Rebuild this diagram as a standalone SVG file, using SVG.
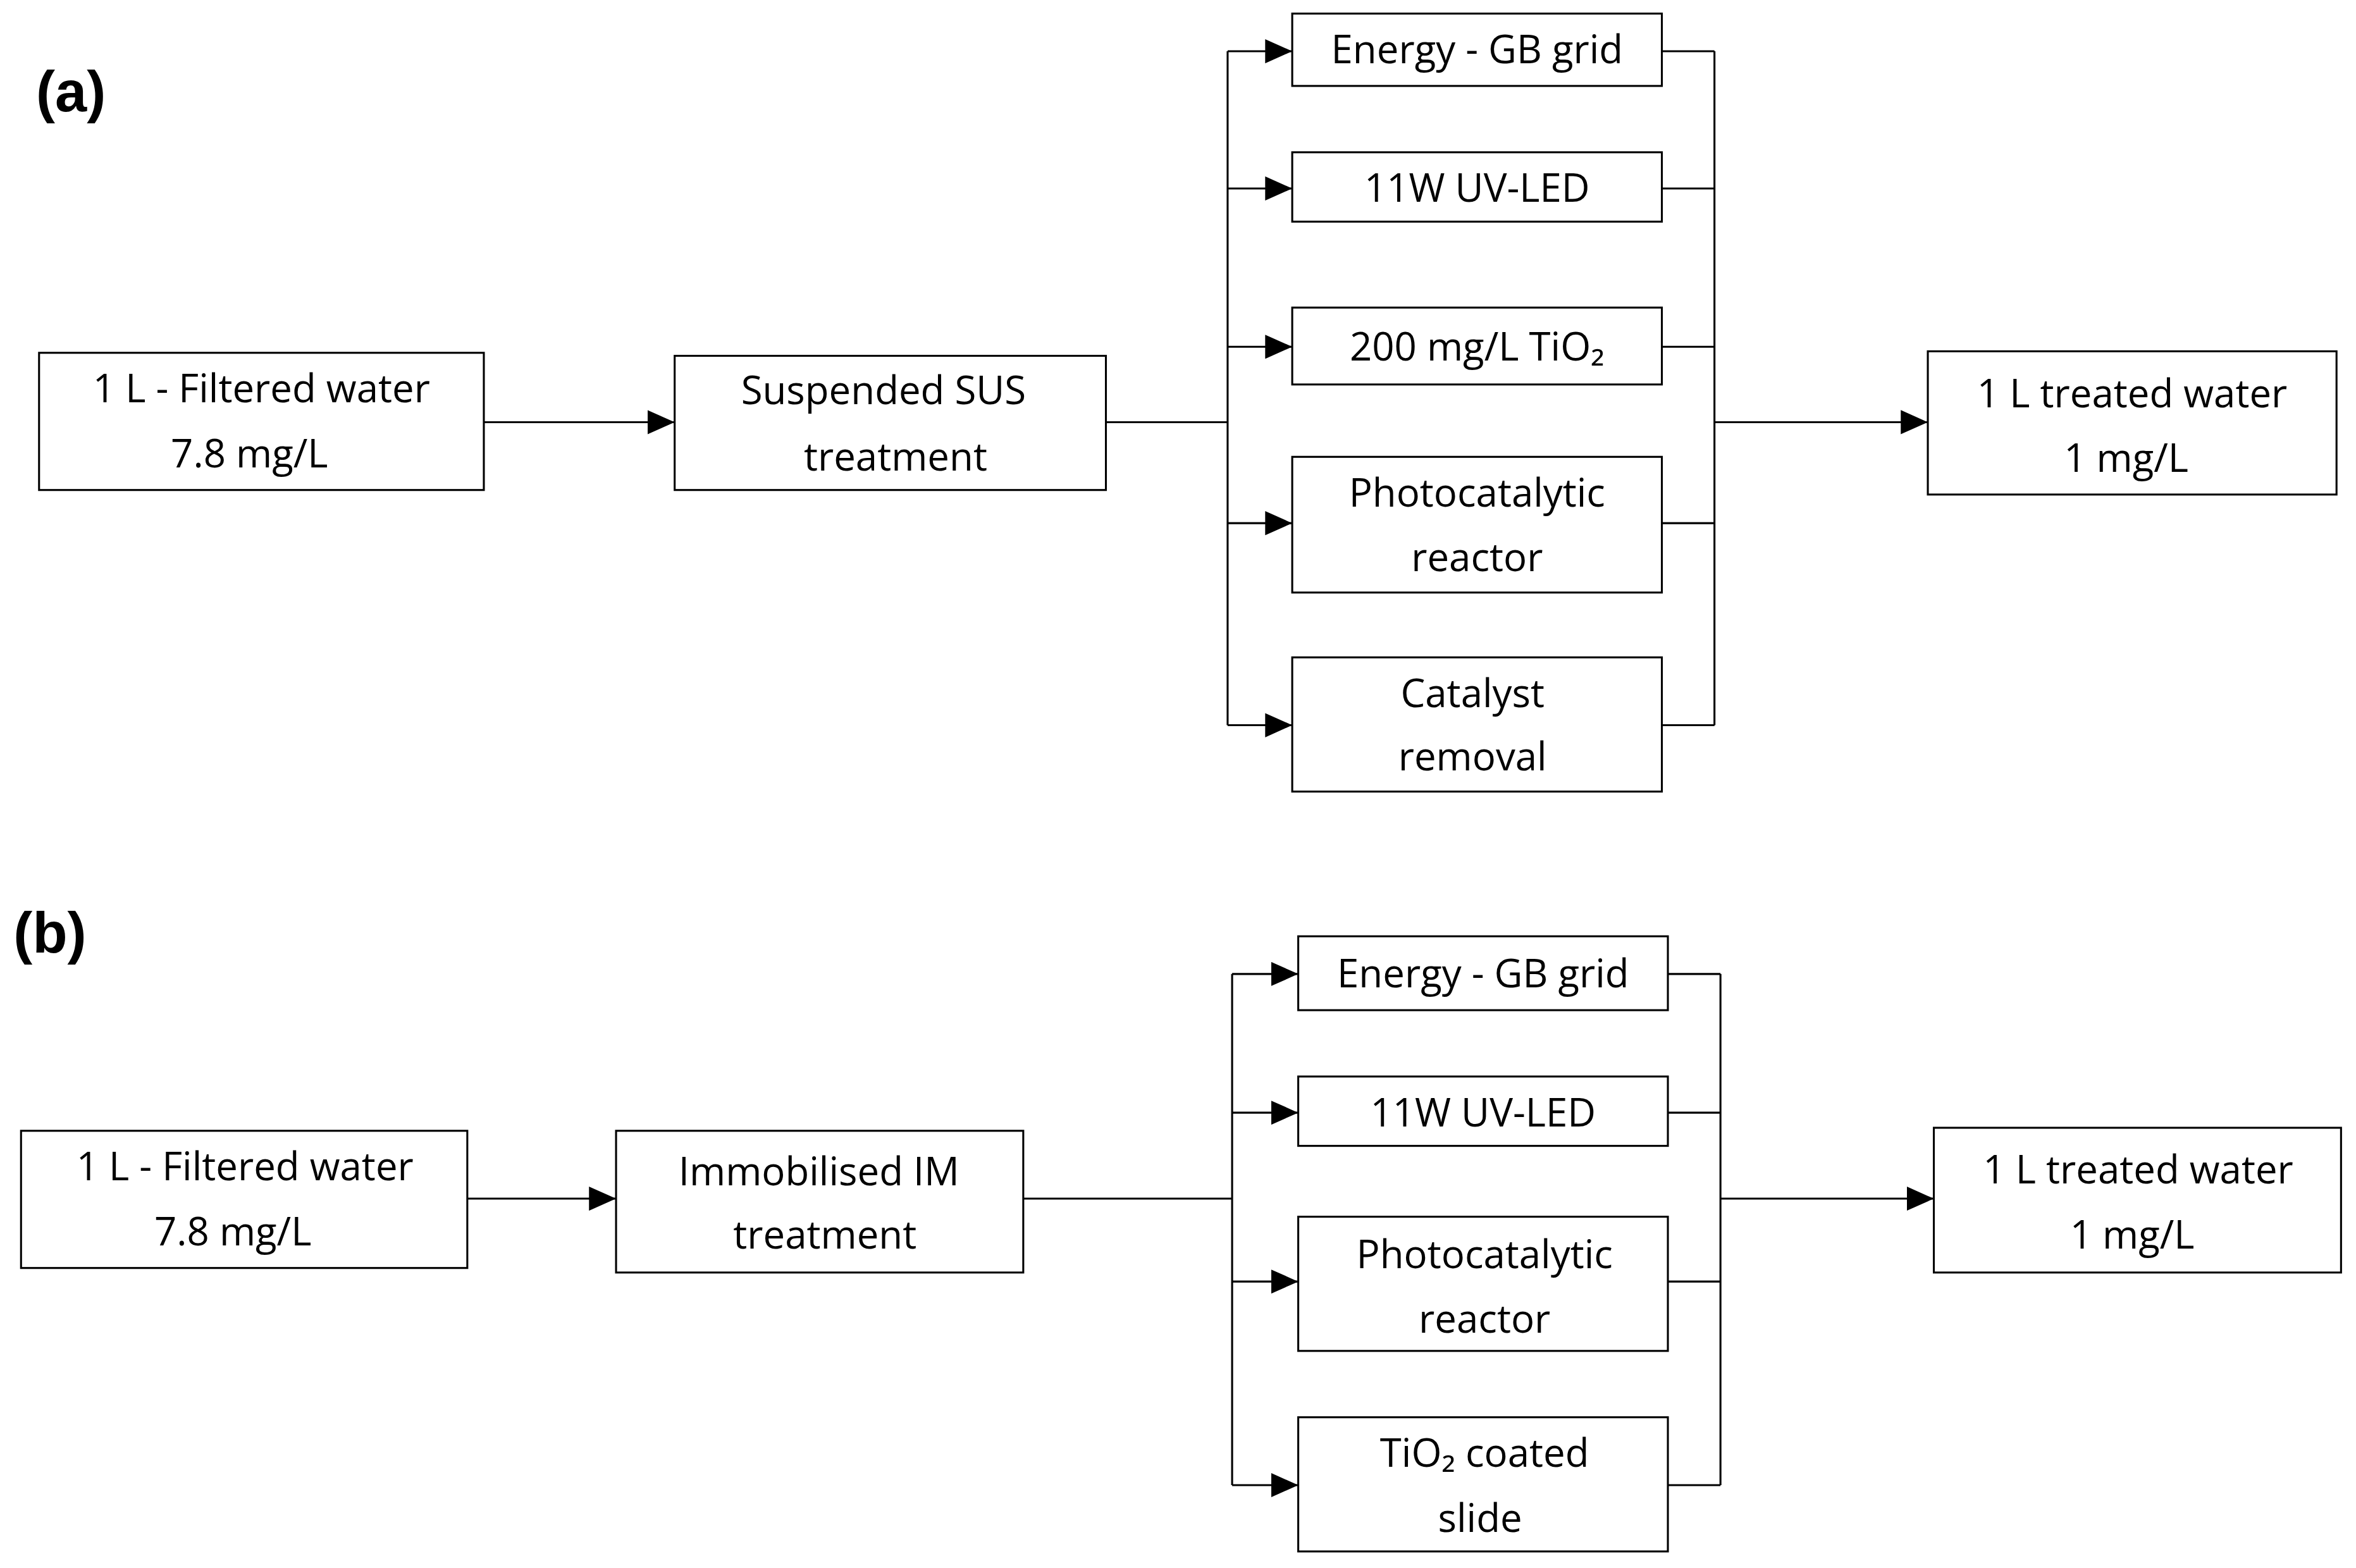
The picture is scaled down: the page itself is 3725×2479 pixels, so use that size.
<svg xmlns="http://www.w3.org/2000/svg" width="3725" height="2479" viewBox="0 0 3725 2479">
<style>
.b{fill:#fff;stroke:#000;stroke-width:1.3}
.t{font-family:"Open Sans","Liberation Sans",sans-serif;font-size:26px;text-anchor:middle;fill:#000}
.l{font-family:"Liberation Sans",Arial,sans-serif;font-size:38px;font-weight:bold;fill:#000}
.c{fill:none;stroke:#000;stroke-width:1.3}
</style>
<defs><marker id="a" markerUnits="userSpaceOnUse" markerWidth="20" markerHeight="16" refX="18" refY="8" orient="auto"><path d="M0,0L18,8L0,16Z" fill="#000"/></marker></defs>
<rect width="3725" height="2479" fill="#fff"/>
<g transform="scale(2.3757,2.3837)">
<text class="l" x="24" y="74">(a)</text>
<text class="l" x="9" y="632">(b)</text>
<g id="connectors">
<path class="c" d="M322,280H449" marker-end="url(#a)"/>
<path class="c" d="M736,280H817M817,34V481"/>
<path class="c" d="M817,34H860" marker-end="url(#a)"/>
<path class="c" d="M817,125H860" marker-end="url(#a)"/>
<path class="c" d="M817,230H860" marker-end="url(#a)"/>
<path class="c" d="M817,347H860" marker-end="url(#a)"/>
<path class="c" d="M817,481H860" marker-end="url(#a)"/>
<path class="c" d="M1106,34H1141M1106,125H1141M1106,230H1141M1106,347H1141M1106,481H1141M1141,34V481"/>
<path class="c" d="M1141,280H1283" marker-end="url(#a)"/>
<path class="c" d="M311,795H410" marker-end="url(#a)"/>
<path class="c" d="M681,795H820M820,646V985"/>
<path class="c" d="M820,646H864" marker-end="url(#a)"/>
<path class="c" d="M820,738H864" marker-end="url(#a)"/>
<path class="c" d="M820,850H864" marker-end="url(#a)"/>
<path class="c" d="M820,985H864" marker-end="url(#a)"/>
<path class="c" d="M1110,646H1145M1110,738H1145M1110,850H1145M1110,985H1145M1145,646V985"/>
<path class="c" d="M1145,795H1287" marker-end="url(#a)"/>
</g>
<g id="a1"><rect class="b" x="26" y="234" width="296" height="91"/><text class="t" x="174" y="267">1 L - Filtered water</text><text class="t" x="166" y="310">7.8 mg/L</text></g>
<g id="a2"><rect class="b" x="449" y="236" width="287" height="89"/><text class="t" x="588" y="268">Suspended SUS</text><text class="t" x="596" y="312">treatment</text></g>
<g id="a3"><rect class="b" x="860" y="9" width="246" height="48"/><text class="t" x="983" y="42">Energy - GB grid</text></g>
<g id="a4"><rect class="b" x="860" y="101" width="246" height="46"/><text class="t" x="983" y="134">11W UV-LED</text></g>
<g id="a5"><rect class="b" x="860" y="204" width="246" height="51"/><text class="t" x="983" y="239">200 mg/L TiO₂</text></g>
<g id="a6"><rect class="b" x="860" y="303" width="246" height="90"/><text class="t" x="983" y="336">Photocatalytic</text><text class="t" x="983" y="379">reactor</text></g>
<g id="a7"><rect class="b" x="860" y="436" width="246" height="89"/><text class="t" x="980" y="469">Catalyst</text><text class="t" x="980" y="511">removal</text></g>
<g id="a8"><rect class="b" x="1283" y="233" width="272" height="95"/><text class="t" x="1419" y="270">1 L treated water</text><text class="t" x="1415" y="313">1 mg/L</text></g>
<g id="b1"><rect class="b" x="14" y="750" width="297" height="91"/><text class="t" x="163" y="783">1 L - Filtered water</text><text class="t" x="155" y="826">7.8 mg/L</text></g>
<g id="b2"><rect class="b" x="410" y="750" width="271" height="94"/><text class="t" x="545" y="786">Immobilised IM</text><text class="t" x="549" y="828">treatment</text></g>
<g id="b3"><rect class="b" x="864" y="621" width="246" height="49"/><text class="t" x="987" y="655">Energy - GB grid</text></g>
<g id="b4"><rect class="b" x="864" y="714" width="246" height="46"/><text class="t" x="987" y="747">11W UV-LED</text></g>
<g id="b5"><rect class="b" x="864" y="807" width="246" height="89"/><text class="t" x="988" y="841">Photocatalytic</text><text class="t" x="988" y="884">reactor</text></g>
<g id="b6"><rect class="b" x="864" y="940" width="246" height="89"/><text class="t" x="988" y="973">TiO₂ coated</text><text class="t" x="985" y="1016">slide</text></g>
<g id="b7"><rect class="b" x="1287" y="748" width="271" height="96"/><text class="t" x="1423" y="785">1 L treated water</text><text class="t" x="1419" y="828">1 mg/L</text></g>
</g>
</svg>
